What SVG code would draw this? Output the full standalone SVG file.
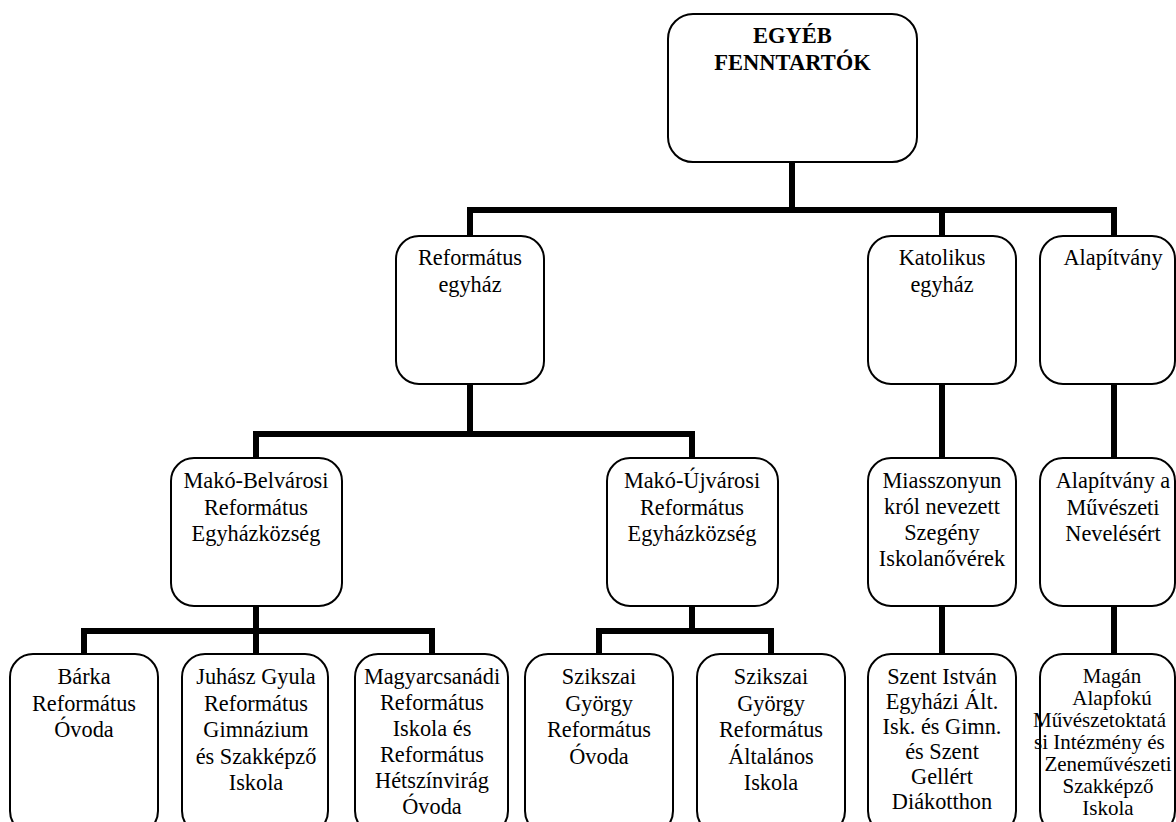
<svg xmlns="http://www.w3.org/2000/svg" width="1176" height="822" viewBox="0 0 1176 822" font-family="Liberation Serif, Tinos, Times New Roman, DejaVu Serif, serif">
<style>
.box{fill:#fff;stroke:#000;stroke-width:2}
.t{font-family:"Liberation Serif", Tinos, "Times New Roman", serif;font-size:22.3px;fill:#000;text-anchor:middle}
.s{font-size:21px}
.st{text-anchor:start}
.b{font-weight:bold;font-size:22.5px}
.c{fill:none;stroke:#000;stroke-width:6;stroke-linejoin:miter;stroke-linecap:butt}
</style>
<rect width="1176" height="822" fill="#fff"/>
<g id="connectors">
<path class="c" d="M792,162 V210"/>
<path class="c" d="M470,236 V210 H1114 V236"/>
<path class="c" d="M942,210 V236"/>
<path class="c" d="M470,384 V434"/>
<path class="c" d="M256,458 V434 H692 V458"/>
<path class="c" d="M942,384 V458"/>
<path class="c" d="M1114,384 V458"/>
<path class="c" d="M256,606 V654"/>
<path class="c" d="M84,654 V631 H432 V654"/>
<path class="c" d="M692,606 V631"/>
<path class="c" d="M599,654 V631 H771 V654"/>
<path class="c" d="M942,606 V654"/>
<path class="c" d="M1114,606 V654"/>
</g>
<g id="n-top">
<rect class="box" x="668" y="14" width="249" height="148" rx="25"/>
<text class="t b" x="792.5" y="43">EGYÉB</text>
<text class="t b" x="792.5" y="70">FENNTARTÓK</text>
</g>
<g id="n-reformatus">
<rect class="box" x="396" y="236" width="148" height="148" rx="23"/>
<text class="t" y="265"><tspan x="470">Református</tspan><tspan x="470" dy="26.5">egyház</tspan></text>
</g>
<g id="n-katolikus">
<rect class="box" x="868" y="236" width="148" height="148" rx="23"/>
<text class="t" y="265"><tspan x="942">Katolikus</tspan><tspan x="942" dy="26.5">egyház</tspan></text>
</g>
<g id="n-alapitvany">
<rect class="box" x="1040" y="236" width="135" height="148" rx="23"/>
<text class="t" x="1113" y="265">Alapítvány</text>
</g>
<g id="n-mako-belvarosi">
<rect class="box" x="171" y="458" width="171" height="148" rx="23"/>
<text class="t" y="488"><tspan x="256">Makó-Belvárosi</tspan><tspan x="256" dy="26.5">Református</tspan><tspan x="256" dy="26.5">Egyházközség</tspan></text>
</g>
<g id="n-mako-ujvarosi">
<rect class="box" x="607" y="458" width="171" height="148" rx="23"/>
<text class="t" y="488"><tspan x="692">Makó-Újvárosi</tspan><tspan x="692" dy="26.5">Református</tspan><tspan x="692" dy="26.5">Egyházközség</tspan></text>
</g>
<g id="n-miasszonyunk">
<rect class="box" x="868" y="458" width="148" height="148" rx="23"/>
<text class="t" y="488"><tspan x="942">Miasszonyun</tspan><tspan x="942" dy="26">król nevezett</tspan><tspan x="942" dy="26">Szegény</tspan><tspan x="942" dy="26">Iskolanővérek</tspan></text>
</g>
<g id="n-alapitvany-muveszeti">
<rect class="box" x="1040" y="458" width="135" height="148" rx="23"/>
<text class="t" y="488"><tspan x="1113">Alapítvány a</tspan><tspan x="1113" dy="26.5">Művészeti</tspan><tspan x="1113" dy="26.5">Nevelésért</tspan></text>
</g>
<g id="n-barka">
<rect class="box" x="10" y="654" width="148" height="180" rx="23"/>
<text class="t" y="684"><tspan x="84">Bárka</tspan><tspan x="84" dy="26.5">Református</tspan><tspan x="84" dy="26.5">Óvoda</tspan></text>
</g>
<g id="n-juhasz">
<rect class="box" x="182" y="654" width="146" height="180" rx="23"/>
<text class="t" y="684"><tspan x="256">Juhász Gyula</tspan><tspan x="256" dy="26.5">Református</tspan><tspan x="256" dy="26.5">Gimnázium</tspan><tspan x="256" dy="26.5">és Szakképző</tspan><tspan x="256" dy="26.5">Iskola</tspan></text>
</g>
<g id="n-magyarcsanadi">
<rect class="box" x="355" y="654" width="153" height="180" rx="23"/>
<text class="t" y="684"><tspan x="432">Magyarcsanádi</tspan><tspan x="432" dy="26">Református</tspan><tspan x="432" dy="26">Iskola és</tspan><tspan x="432" dy="26">Református</tspan><tspan x="432" dy="26">Hétszínvirág</tspan><tspan x="432" dy="26">Óvoda</tspan></text>
</g>
<g id="n-szikszai-ovoda">
<rect class="box" x="525" y="654" width="148" height="180" rx="23"/>
<text class="t" y="684"><tspan x="599">Szikszai</tspan><tspan x="599" dy="26.5">György</tspan><tspan x="599" dy="26.5">Református</tspan><tspan x="599" dy="26.5">Óvoda</tspan></text>
</g>
<g id="n-szikszai-iskola">
<rect class="box" x="697" y="654" width="148" height="180" rx="23"/>
<text class="t" y="684"><tspan x="771">Szikszai</tspan><tspan x="771" dy="26.5">György</tspan><tspan x="771" dy="26.5">Református</tspan><tspan x="771" dy="26.5">Általános</tspan><tspan x="771" dy="26.5">Iskola</tspan></text>
</g>
<g id="n-szent-istvan">
<rect class="box" x="868" y="654" width="148" height="180" rx="23"/>
<text class="t" y="684"><tspan x="942">Szent István</tspan><tspan x="942" dy="25">Egyházi Ált.</tspan><tspan x="942" dy="25">Isk. és Gimn.</tspan><tspan x="942" dy="25">és Szent</tspan><tspan x="942" dy="25">Gellért</tspan><tspan x="942" dy="25">Diákotthon</tspan></text>
</g>
<g id="n-magan">
<rect class="box" x="1040" y="654" width="135" height="180" rx="23"/>
<text class="t s" y="683"><tspan x="1112">Magán</tspan><tspan x="1112" dy="22">Alapfokú</tspan><tspan class="st" x="1033" dy="22">Művészetoktatá</tspan><tspan class="st" x="1034" dy="22">si Intézmény és</tspan><tspan x="1108" dy="22">Zeneművészeti</tspan><tspan x="1108" dy="22">Szakképző</tspan><tspan x="1108" dy="22">Iskola</tspan></text>
</g>
</svg>
